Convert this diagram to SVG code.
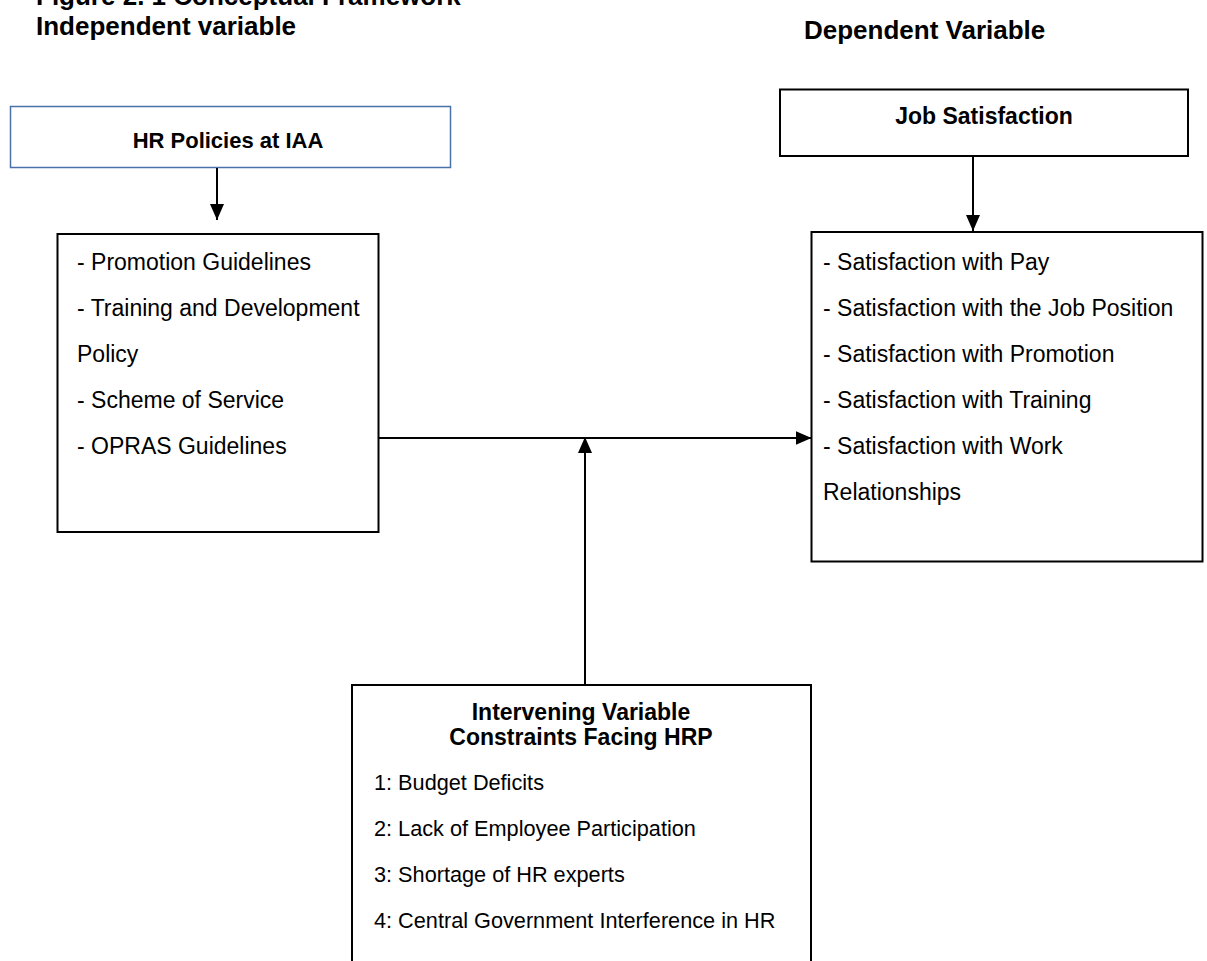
<svg xmlns="http://www.w3.org/2000/svg" width="1207" height="961" viewBox="0 0 1207 961">
<defs>
<style>
.head{font-family:"Liberation Sans",Arial,sans-serif;font-weight:bold;font-size:26px;fill:#000}
.title{font-family:"Liberation Sans",Arial,sans-serif;font-weight:bold;font-size:22px;fill:#000}
.item{font-family:"Liberation Sans",Arial,sans-serif;font-size:23px;fill:#000}
.small{font-size:21.7px}
.box{fill:#fff;stroke:#000;stroke-width:2}
.conn{fill:none;stroke:#000;stroke-width:2}
</style>
<marker id="arr" viewBox="0 0 16 14" refX="16" refY="7" markerWidth="16" markerHeight="14" markerUnits="userSpaceOnUse" orient="auto">
<path d="M0,0 L16,7 L0,14 z" fill="#000"/>
</marker>
</defs>
<rect width="1207" height="961" fill="#fff"/>
<g id="headings">
<text class="head" x="36" y="5">Figure 2. 1 Conceptual Framework</text>
<text class="head" x="36" y="35">Independent variable</text>
<text class="head" x="804" y="39">Dependent Variable</text>
</g>
<g id="hr-policies">
<rect x="10.5" y="106.5" width="440" height="61" fill="#fff" stroke="#4A72A8" stroke-width="1.5"/>
<text class="title" x="228" y="148" text-anchor="middle">HR Policies at IAA</text>
</g>
<g id="policy-list">
<rect class="box" x="57.5" y="234" width="321" height="298" stroke-width="1.5"/>
<text class="item" x="77" y="270">- Promotion Guidelines</text>
<text class="item" x="77" y="316">- Training and Development</text>
<text class="item" x="77" y="362">Policy</text>
<text class="item" x="77" y="408">- Scheme of Service</text>
<text class="item" x="77" y="454">- OPRAS Guidelines</text>
</g>
<g id="job-satisfaction">
<rect class="box" x="780" y="89.5" width="408" height="66.5"/>
<text class="title" x="984" y="124" text-anchor="middle" style="font-size:23px">Job Satisfaction</text>
</g>
<g id="satisfaction-list">
<rect class="box" x="811.5" y="232" width="391" height="329.5"/>
<text class="item" x="823" y="270">- Satisfaction with Pay</text>
<text class="item" x="823" y="316">- Satisfaction with the Job Position</text>
<text class="item" x="823" y="362">- Satisfaction with Promotion</text>
<text class="item" x="823" y="408">- Satisfaction with Training</text>
<text class="item" x="823" y="454">- Satisfaction with Work</text>
<text class="item" x="823" y="500">Relationships</text>
</g>
<g id="intervening">
<rect class="box" x="352" y="685" width="459" height="300"/>
<text class="title" x="581" y="720" text-anchor="middle" style="font-size:23px">Intervening Variable</text>
<text class="title" x="581" y="745" text-anchor="middle" style="font-size:23px">Constraints Facing HRP</text>
<text class="item small" x="374" y="790">1: Budget Deficits</text>
<text class="item small" x="374" y="836">2: Lack of Employee Participation</text>
<text class="item small" x="374" y="882">3: Shortage of HR experts</text>
<text class="item small" x="374" y="928">4: Central Government Interference in HR</text>
</g>
<g id="connectors">
<line class="conn" x1="217" y1="168" x2="217" y2="220" marker-end="url(#arr)"/>
<line class="conn" x1="973" y1="156" x2="973" y2="231" marker-end="url(#arr)"/>
<line class="conn" x1="378.5" y1="438" x2="811.5" y2="438" marker-end="url(#arr)"/>
<line class="conn" x1="585" y1="685" x2="585" y2="437" marker-end="url(#arr)"/>
</g>
</svg>
